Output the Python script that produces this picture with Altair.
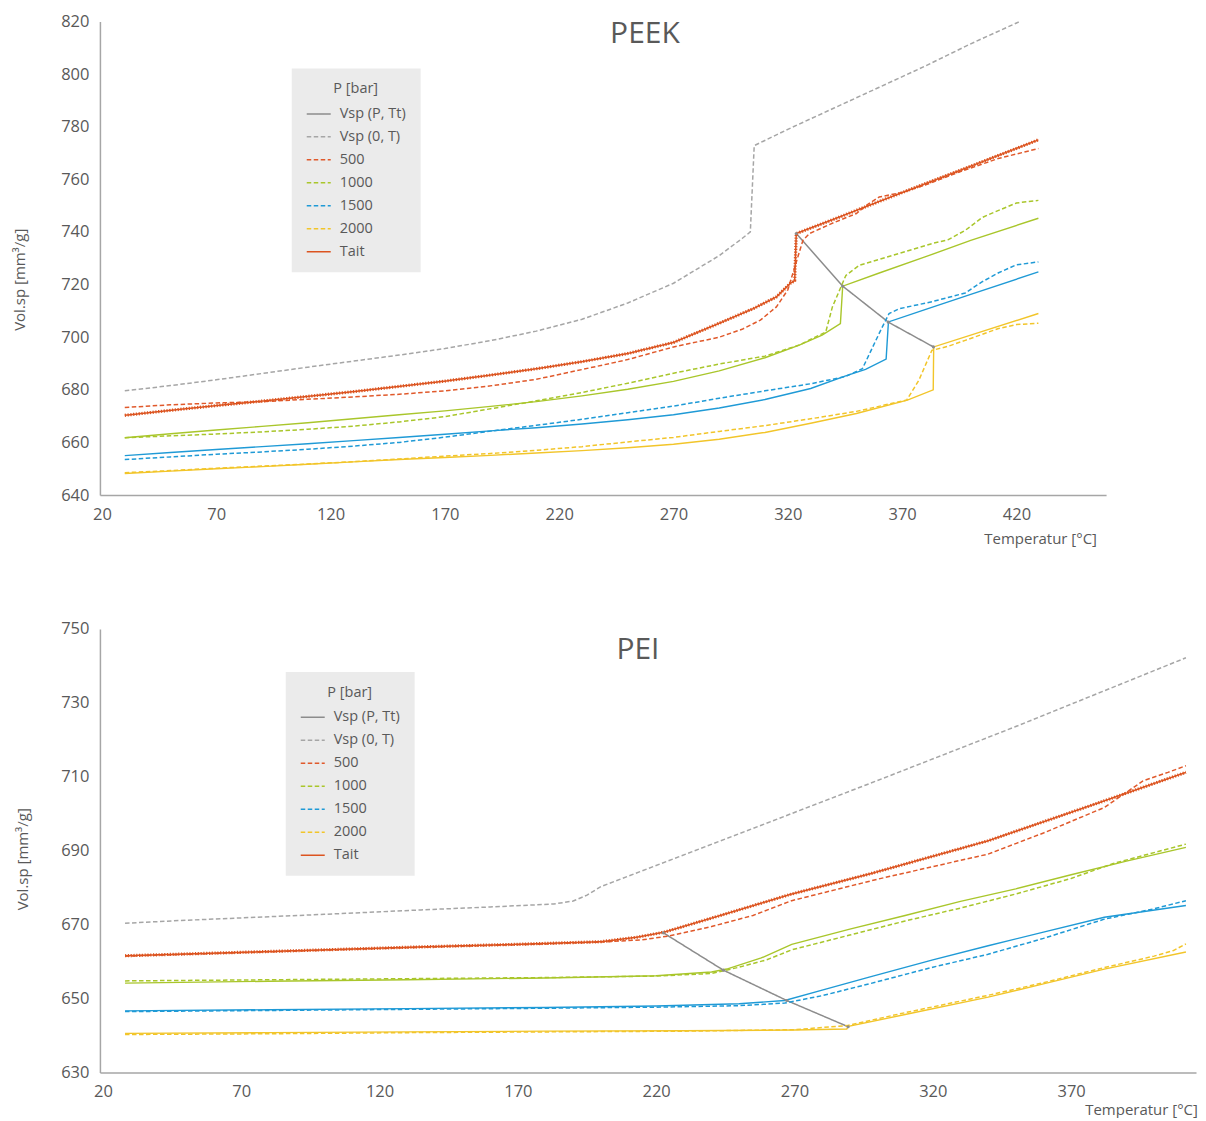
import altair as alt
import pandas as pd

# ---------------- PEEK (top) ----------------
peek_vsp0_T = [30, 50, 70, 90, 110, 130, 150, 170, 190, 210, 230, 250, 270, 290, 300, 303.6, 305.3, 320, 340, 360, 380, 400, 421]
peek_vsp0_V = [679.6, 681.6, 683.8, 686.2, 688.6, 690.9, 693.2, 695.7, 698.7, 702.3, 706.8, 713.0, 720.5, 731.0, 737.5, 740.0, 772.8, 779.0, 787.0, 795.0, 803.0, 811.5, 819.8]

peek_vspP_T = [323.7, 344.0, 364.0, 383.7]
peek_vspP_V = [739.4, 719.4, 705.7, 696.3]

peek_tait_T = [30, 50, 70, 90, 110, 130, 150, 170, 190, 210, 230, 250, 270, 290, 305, 315, 321, 323, 323.7, 340, 360, 380, 400, 429.6]
peek_tait_V = [670.3, 672.2, 674.0, 675.7, 677.5, 679.3, 681.3, 683.3, 685.6, 688.0, 690.7, 693.8, 698.0, 705.3, 710.9, 715.3, 720.4, 721.5, 739.4, 744.8, 751.6, 758.3, 765.0, 775.0]

peek_m500_T = [30, 50, 70, 90, 110, 130, 150, 170, 190, 210, 230, 250, 270, 290, 300, 308, 315, 320, 326.6, 329.5, 340, 350, 355, 360, 370, 380, 395, 412, 429.6]
peek_m500_V = [673.3, 674.3, 675.0, 675.5, 676.4, 677.3, 678.3, 679.6, 681.5, 684.0, 687.7, 691.5, 696.3, 700.0, 703.0, 706.5, 711.5, 718.0, 736.8, 739.4, 743.5, 747.0, 750.5, 753.3, 755.0, 757.8, 762.8, 767.9, 771.7]

peek_m1000_T = [30, 50, 70, 90, 110, 130, 150, 170, 190, 210, 230, 250, 270, 290, 310, 325, 336.6, 339.5, 345.4, 351.2, 368.6, 383.1, 390, 397.6, 405, 412.2, 420, 429.6]
peek_m1000_V = [661.8, 662.5, 663.2, 664.0, 665.0, 666.2, 667.8, 669.8, 672.8, 675.8, 679.0, 682.5, 686.3, 689.8, 692.8, 697.0, 702.0, 711.5, 723.5, 727.3, 731.8, 735.6, 737.0, 740.6, 745.5, 748.2, 751.0, 752.0]

peek_m1500_T = [30, 50, 70, 90, 110, 130, 150, 170, 190, 210, 230, 250, 270, 290, 310, 330, 345, 352.6, 360.6, 364.3, 368.7, 383.1, 397.6, 404.9, 412.2, 420, 429.6]
peek_m1500_V = [653.5, 654.5, 655.5, 656.4, 657.4, 658.6, 660.0, 662.0, 664.3, 666.5, 668.8, 671.3, 673.8, 676.8, 679.6, 682.3, 685.0, 688.0, 702.6, 709.0, 710.8, 713.5, 716.8, 721.0, 724.5, 727.5, 728.6]

peek_m2000_T = [30, 50, 70, 90, 110, 130, 150, 170, 190, 210, 230, 250, 270, 290, 310, 330, 350, 372, 377.3, 383, 390, 397.6, 412.2, 420, 429.6]
peek_m2000_V = [648.5, 649.3, 650.2, 651.0, 651.8, 652.7, 653.7, 654.8, 655.8, 657.0, 658.4, 660.2, 661.9, 664.2, 666.4, 669.0, 671.8, 676.1, 683.6, 695.0, 696.5, 698.8, 703.3, 704.8, 705.3]

peek_t1000_T = [30, 50, 70, 90, 110, 130, 150, 170, 190, 210, 230, 250, 270, 290, 310, 325, 335, 343, 344, 360, 380, 400, 429.6]
peek_t1000_V = [661.8, 663.3, 664.7, 666.1, 667.5, 669.0, 670.5, 672.0, 673.7, 675.5, 677.7, 680.2, 683.2, 687.2, 692.2, 697.0, 700.8, 705.2, 719.4, 724.4, 730.5, 736.8, 745.2]

peek_t1500_T = [30, 50, 70, 90, 110, 130, 150, 170, 190, 210, 230, 250, 270, 290, 310, 330, 345, 354, 363, 364, 380, 400, 429.6]
peek_t1500_V = [655.0, 656.2, 657.3, 658.4, 659.5, 660.7, 661.9, 663.1, 664.4, 665.6, 667.0, 668.6, 670.5, 673.1, 676.3, 680.5, 685.2, 687.8, 691.7, 705.8, 710.5, 716.3, 724.8]

peek_t2000_T = [30, 50, 70, 90, 110, 130, 150, 170, 190, 210, 230, 250, 270, 290, 310, 330, 350, 372.3, 383.6, 383.8, 400, 429.6]
peek_t2000_V = [648.2, 649.1, 650.0, 650.8, 651.7, 652.6, 653.5, 654.3, 655.1, 656.0, 656.9, 658.0, 659.3, 661.2, 663.8, 667.3, 671.0, 676.1, 680.0, 696.3, 700.8, 709.0]

# ---------------- PEI (bottom) ----------------
pei_vsp0_T = [28, 50, 75, 100, 135, 160, 183, 190, 195, 200, 250, 300, 350, 411.5]
pei_vsp0_V = [670.4, 671.2, 672.0, 672.8, 674.0, 674.8, 675.6, 676.4, 678.0, 680.3, 694.6, 709.0, 723.6, 742.2]

pei_vspP_T = [222.6, 244.3, 267.2, 289.4]
pei_vspP_V = [667.8, 657.7, 649.5, 642.4]

pei_tait_T = [28, 60, 100, 135, 170, 200, 213, 223, 241, 269, 297, 340, 382, 411.5]
pei_tait_V = [661.6, 662.3, 663.2, 664.0, 664.7, 665.4, 666.6, 668.0, 672.0, 678.3, 683.7, 692.7, 703.5, 711.2]

pei_m500_T = [28, 60, 100, 140, 180, 200, 215, 225, 240, 255, 269, 300, 340, 360, 382, 396, 405, 411.5]
pei_m500_V = [661.5, 662.2, 663.1, 664.0, 664.8, 665.3, 665.9, 667.0, 669.5, 672.5, 676.5, 682.3, 689.1, 694.8, 701.7, 708.9, 711.2, 713.0]

pei_m1000_T = [28, 80, 130, 180, 220, 240, 250, 260, 269, 290, 310, 330, 350, 370, 385, 400, 411.5]
pei_m1000_V = [654.8, 655.1, 655.4, 655.7, 656.1, 656.8, 658.5, 660.5, 663.2, 667.2, 671.0, 674.5, 678.3, 682.5, 686.5, 689.5, 691.8]

pei_m1500_T = [28, 80, 130, 180, 220, 250, 266.5, 280, 297, 320, 340, 360, 382, 400, 411.5]
pei_m1500_V = [646.5, 646.8, 647.1, 647.4, 647.7, 648.1, 648.8, 650.8, 654.0, 658.5, 662.0, 666.3, 671.5, 674.3, 676.5]

pei_m2000_T = [28, 80, 130, 180, 230, 270, 288.9, 310, 340, 360, 382, 400, 407, 411.5]
pei_m2000_V = [640.3, 640.5, 640.8, 641.0, 641.2, 641.6, 642.7, 646.2, 650.9, 654.3, 658.4, 661.5, 663.0, 664.8]

pei_t1000_T = [28, 80, 130, 180, 220, 240, 245.5, 258, 269, 290, 310, 330, 350, 370, 390, 411.5]
pei_t1000_V = [654.2, 654.7, 655.1, 655.6, 656.2, 657.2, 658.0, 661.0, 664.7, 668.8, 672.5, 676.3, 679.7, 683.5, 687.2, 690.9]

pei_t1500_T = [28, 80, 130, 180, 220, 250, 266.5, 280, 297, 320, 340, 360, 382, 411.5]
pei_t1500_V = [646.7, 647.0, 647.3, 647.6, 648.0, 648.6, 649.5, 652.3, 655.8, 660.5, 664.3, 668.0, 672.0, 675.2]

pei_t2000_T = [28, 80, 130, 180, 230, 270, 288.9, 289.5, 310, 340, 360, 382, 411.5]
pei_t2000_V = [640.6, 640.8, 641.0, 641.2, 641.3, 641.5, 641.8, 642.5, 645.7, 650.4, 654.0, 658.0, 662.6]

# ---------------- legend / styling ----------------
legend_names = ["Vsp (P, Tt)", "Vsp (0, T)", "500", "1000", "1500", "2000", "Tait"]
legend_colors = ["#8c8c8c", "#a6a6a6", "#e0592b", "#a9c62b", "#1f9ad6", "#f2c52a", "#dc5420"]
legend_dashes = [[1, 0], [4.5, 2.5], [4.5, 2.5], [4.5, 2.5], [4.5, 2.5], [4.5, 2.5], [1, 0]]

FONT = "Open Sans"
TXT = "#595959"


def frame(T, V, name):
    return pd.DataFrame({"T": T, "V": V, "series": name})


def panel(main, extra, title, title_dx, title_off, xdom, xvals, ydom, yvals, w, h,
          leg_xy, ytitle_xy, xtitle_xy):
    x = alt.X("T:Q", scale=alt.Scale(domain=xdom, nice=False, zero=False),
              axis=alt.Axis(values=xvals, title="Temperatur [°C]", titleX=xtitle_xy[0],
                            titleY=xtitle_xy[1], titleAlign="center", titleBaseline="middle",
                            labelFlush=False, labelPadding=11))
    y = alt.Y("V:Q", scale=alt.Scale(domain=ydom, nice=False, zero=False),
              axis=alt.Axis(values=yvals, title="Vol.sp [mm³/g]", titleX=ytitle_xy[0],
                            titleY=ytitle_xy[1], titleAlign="center", titleBaseline="middle",
                            titleAngle=270, labelPadding=11))
    leg = alt.Legend(title="P [bar]", orient="none", legendX=leg_xy[0], legendY=leg_xy[1],
                     fillColor="#ebebeb", padding=14, symbolSize=576, symbolStrokeWidth=1.5,
                     labelFont=FONT, labelFontSize=14.5, labelColor=TXT, titleFont=FONT,
                     titleFontSize=14.5, titleFontWeight="normal", titleColor=TXT,
                     titleAnchor="middle", titlePadding=4, rowPadding=3, labelOffset=8)
    color = alt.Color("series:N", scale=alt.Scale(domain=legend_names, range=legend_colors), legend=leg)
    dash = alt.StrokeDash("series:N", scale=alt.Scale(domain=legend_names, range=legend_dashes), legend=leg)

    layers = []
    # solid Tait lines for 1000 / 1500 / 2000 bar (not in the legend)
    for name, col in [("1000", legend_colors[3]), ("1500", legend_colors[4]), ("2000", legend_colors[5])]:
        layers.append(alt.Chart(extra).transform_filter(alt.datum.series == name)
                      .mark_line(strokeWidth=1.4, color=col).encode(x=x, y=y))
    layers.append(alt.Chart(main).mark_line(strokeWidth=1.5).encode(
        x=x, y=y, color=color, strokeDash=dash))
    # marker-dense look of the Tait curve
    layers.append(alt.Chart(main).transform_filter(alt.datum.series == "Tait")
                  .mark_line(strokeWidth=3.2, strokeDash=[1.2, 1.6], color=legend_colors[6])
                  .encode(x=x, y=y))
    layers.append(alt.Chart(main).transform_filter(alt.datum.series == "Vsp (P, Tt)")
                  .mark_point(filled=True, size=10, color=legend_colors[0], opacity=1)
                  .encode(x=x, y=y))
    return alt.layer(*layers).properties(
        width=w, height=h,
        title=alt.TitleParams(text=title, fontSize=30, font=FONT, fontWeight="normal", color=TXT,
                              anchor="middle", dx=title_dx, offset=title_off, baseline="top"))


peek_main = pd.concat([
    frame(peek_vspP_T, peek_vspP_V, "Vsp (P, Tt)"),
    frame(peek_vsp0_T, peek_vsp0_V, "Vsp (0, T)"),
    frame(peek_m500_T, peek_m500_V, "500"),
    frame(peek_m1000_T, peek_m1000_V, "1000"),
    frame(peek_m1500_T, peek_m1500_V, "1500"),
    frame(peek_m2000_T, peek_m2000_V, "2000"),
    frame(peek_tait_T, peek_tait_V, "Tait"),
])
peek_extra = pd.concat([
    frame(peek_t1000_T, peek_t1000_V, "1000"),
    frame(peek_t1500_T, peek_t1500_V, "1500"),
    frame(peek_t2000_T, peek_t2000_V, "2000"),
])
pei_main = pd.concat([
    frame(pei_vspP_T, pei_vspP_V, "Vsp (P, Tt)"),
    frame(pei_vsp0_T, pei_vsp0_V, "Vsp (0, T)"),
    frame(pei_m500_T, pei_m500_V, "500"),
    frame(pei_m1000_T, pei_m1000_V, "1000"),
    frame(pei_m1500_T, pei_m1500_V, "1500"),
    frame(pei_m2000_T, pei_m2000_V, "2000"),
    frame(pei_tait_T, pei_tait_V, "Tait"),
])
pei_extra = pd.concat([
    frame(pei_t1000_T, pei_t1000_V, "1000"),
    frame(pei_t1500_T, pei_t1500_V, "1500"),
    frame(pei_t2000_T, pei_t2000_V, "2000"),
])

top = panel(peek_main, peek_extra, "PEEK", 42, -36, [19.13, 459.2], list(range(20, 421, 50)),
            [640, 820], list(range(640, 821, 20)), 1007, 474,
            (192, 47), (-80, 258), (941, 43))
bottom = panel(pei_main, pei_extra, "PEI", -10, -44, [18.92, 415.15], list(range(20, 371, 50)),
               [630, 750], list(range(630, 751, 20)), 1097, 444,
               (186, 43), (-77, 230), (1042, 37))

chart = alt.vconcat(top, bottom, spacing=75).resolve_scale(
    color="independent", strokeDash="independent"
).resolve_legend(
    color="independent", strokeDash="independent"
).properties(
    padding={"left": 5, "top": 5, "right": 0, "bottom": 0}
).configure_view(stroke=None).configure_axis(
    grid=False, ticks=False, domainColor="#a6a6a6", domainWidth=1.5,
    labelFont=FONT, labelFontSize=16.5, labelColor=TXT,
    titleFont=FONT, titleFontSize=15, titleFontWeight="normal", titleColor=TXT
)

chart.save("out.html", embed_options={"renderer": "svg", "actions": False})
